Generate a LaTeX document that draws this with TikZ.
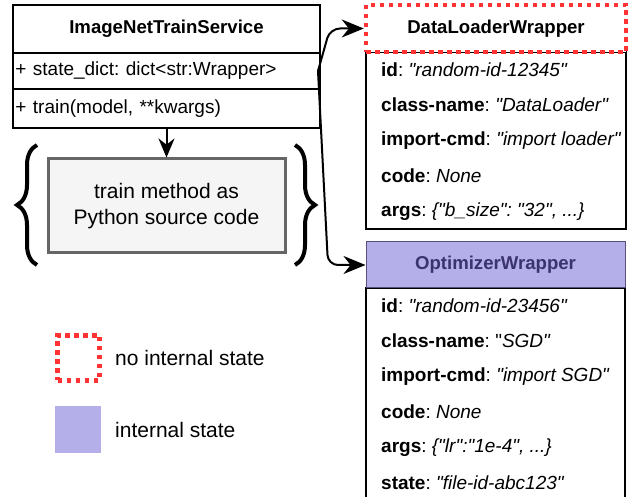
\documentclass[tikz,border=0pt]{standalone}
\usepackage{fontspec}
\setmainfont{Liberation Sans}[Ligatures=TeXOff]
\usetikzlibrary{arrows.meta,decorations.pathreplacing}

\definecolor{statefill}{HTML}{B4AFE8}
\definecolor{statetext}{HTML}{3B336E}
\definecolor{statedraw}{HTML}{56517E}
\definecolor{nostate}{HTML}{FF3333}
\definecolor{codefill}{HTML}{F5F5F5}
\definecolor{codedraw}{HTML}{666666}

\tikzset{
    umlbox/.style={draw, line width=1.3pt, inner sep=0pt},
    umlhead/.style={umlbox, font=\fontsize{18.6}{22}\selectfont\bfseries},
    umlrow/.style={umlbox, inner xsep=2.5pt, align=left, font=\fontsize{19}{23}\selectfont},
    row/.style={anchor=west, inner sep=0pt, font=\fontsize{19}{23}\selectfont},
    nostatebox/.style={draw=nostate, line width=4.5pt, dash pattern=on 4.5pt off 4.5pt},
    statebox/.style={draw=statedraw, line width=1pt, fill=statefill},
    conn/.style={line width=2pt, rounded corners=10pt, -{Stealth[length=22pt,width=18pt]}},
    curly/.style={line width=4pt, decorate, decoration={brace, amplitude=20pt}},
    legend/.style={anchor=west, inner sep=0pt, font=\fontsize{21}{25}\selectfont},
}

\begin{document}
\frenchspacing
\begin{tikzpicture}[x=1pt, y=-1pt]
            \useasboundingbox (0,0) rectangle (633,497);
            % service class
            \node[umlhead, minimum width=307pt, minimum height=48pt] at (166.5,29) (svc) {ImageNetTrainService};
            \node[umlrow, text width=302pt, minimum height=36pt] at (166.5,71) (svcattr) {+ state\_dict: dict<str:Wrapper>};
            \node[umlrow, text width=302pt, minimum height=39pt] at (166.5,108.5) (svcop) {+ train(model, **kwargs)};
            % source code
            \node[draw=codedraw, fill=codefill, line width=3pt, minimum width=237pt, minimum height=94pt, align=center, font=\fontsize{21}{26}\selectfont] at (166.5,206) (code) {train method as\\Python source code};
            \draw[curly] (37,265) -- (37,145);
            \draw[curly] (295,145) -- (295,265);
            \draw[line width=2pt, -{Stealth[length=19pt,width=16pt]}] (svcop) to (code);
            % data loader wrapper
            \node[umlbox, minimum width=260pt, minimum height=177pt] at (496,140.5) (dlbody) {};
            \node[umlhead, nostatebox, fill=white, minimum width=260pt, minimum height=47pt] at (496,28.5) (dl) {DataLoaderWrapper};
            \node[row] at (381,69.7) (dlid) {\textbf{id}: \textit{"random-id-12345"}};
            \node[row] at (381,105.1) (dlcls) {\textbf{class-name}: \textit{"DataLoader"}};
            \node[row] at (381,140.5) (dlimp) {\textbf{import-cmd}: \textit{"import loader"}};
            \node[row] at (381,175.9) (dlcode) {\textbf{code}: \textit{None}};
            \node[row] at (381,211.3) (dlargs) {\textbf{args}: \textit{\{"b\_size": "32", ...\}}};
            % optimizer wrapper
            \node[umlbox, minimum width=259pt, minimum height=230pt] at (495.5,403) (optbody) {};
            \node[umlhead, statebox, text=statetext, minimum width=259pt, minimum height=46pt] at (495.5,265) (opt) {OptimizerWrapper};
            \node[row] at (381,305.5) (optid) {\textbf{id}: \textit{"random-id-23456"}};
            \node[row] at (381,341) (optcls) {\textbf{class-name}: "\textit{SGD"}};
            \node[row] at (381,376.5) (optimp) {\textbf{import-cmd}: \textit{"import SGD"}};
            \node[row] at (381,412) (optcode) {\textbf{code}: \textit{None}};
            \node[row] at (381,447.5) (optargs) {\textbf{args}: \textit{\{"lr":"1e-4", ...\}}};
            \node[row] at (381,483) (optstate) {\textbf{state}: \textit{"file-id-abc123"}};
            % state dict links
            \coordinate (fork) at (318,71);
            \draw[conn] (fork) -- (330,28.5) -- (dl.west);
            \draw[conn] (fork) -- (328,265) -- (opt.west);
            % legend
            \node[nostatebox, minimum width=42pt, minimum height=45pt] at (78.5,358) (lgnone) {};
            \node[legend] at (115,358) (lgnonetext) {no internal state};
            \node[fill=statefill, minimum width=46pt, minimum height=47pt] at (78,429.5) (lgstate) {};
            \node[legend] at (115,429.5) (lgstatetext) {internal state};
        \end{tikzpicture}
\end{document}
